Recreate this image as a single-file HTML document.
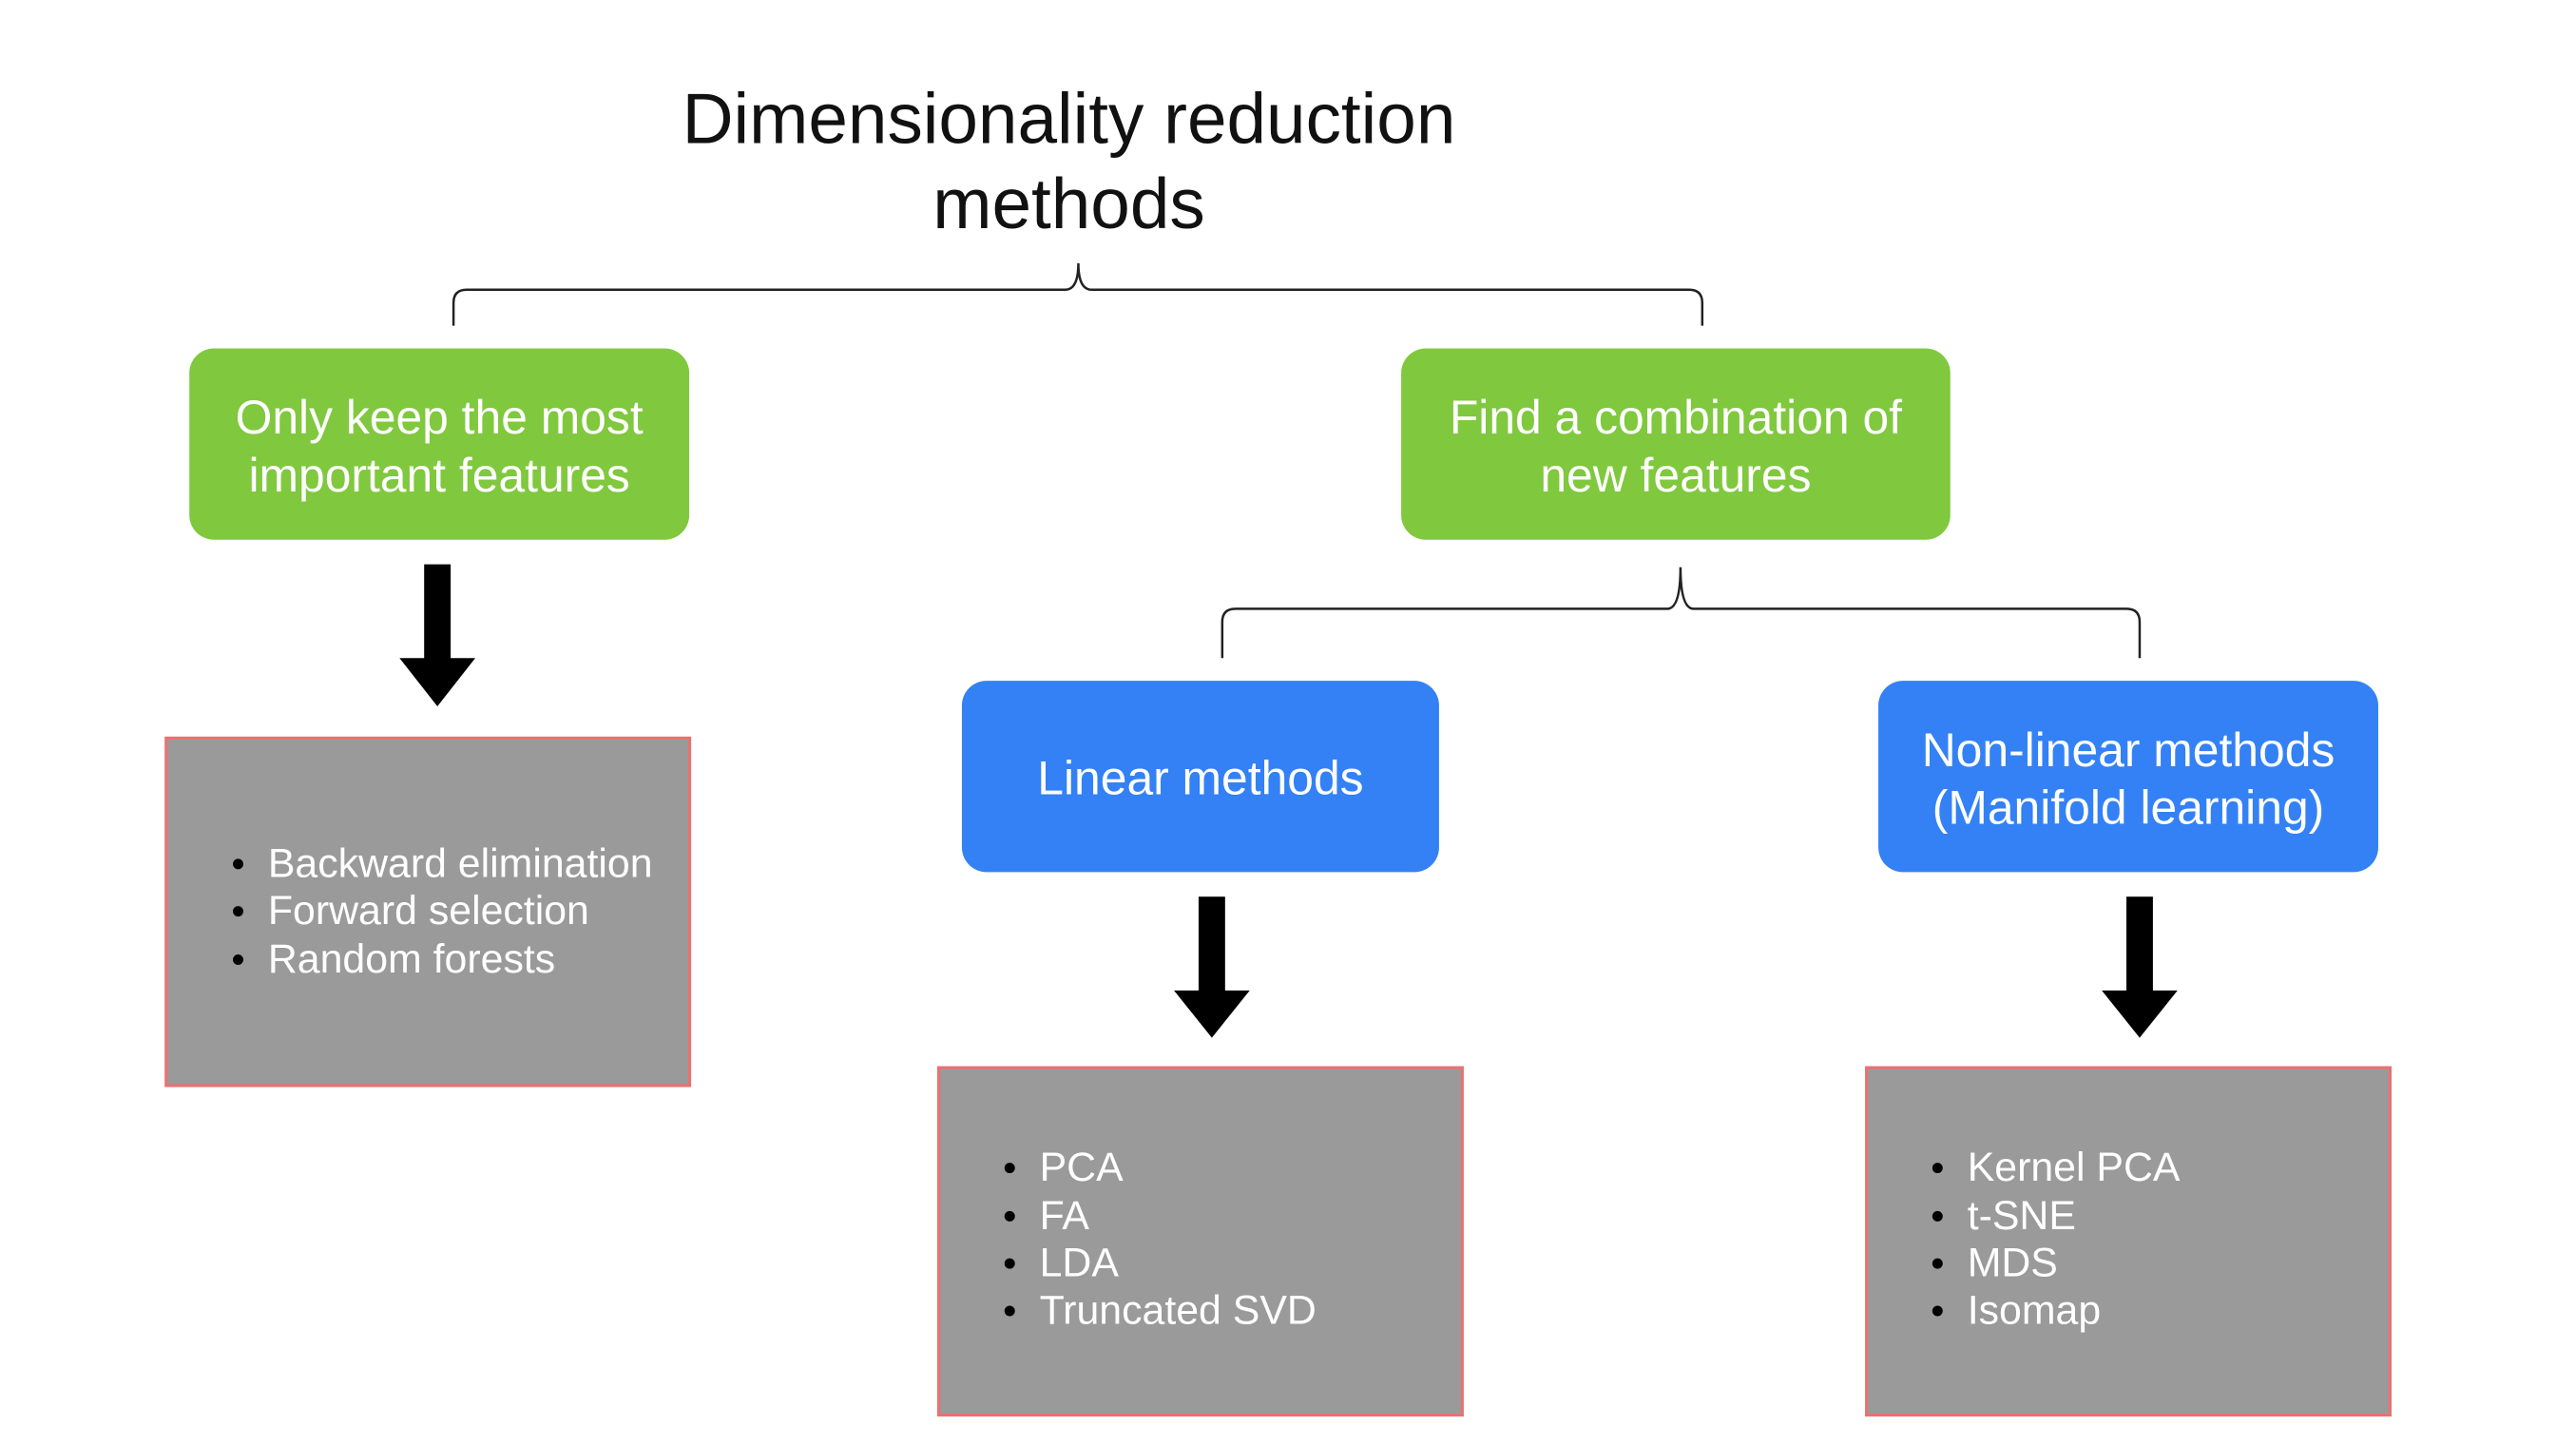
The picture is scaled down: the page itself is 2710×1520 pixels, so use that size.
<!DOCTYPE html>
<html><head><meta charset="utf-8"><style>
body{margin:0;width:2710px;height:1520px;background:#fff;position:relative;overflow:hidden;font-family:"Liberation Sans",Arial,sans-serif}
#w{position:absolute;left:0;top:0;width:2710px;height:1520px;transform:scale(0.996);transform-origin:0 0}
.a{position:absolute}
.t{position:absolute;white-space:nowrap;text-align:center}
.box{position:absolute;border-radius:26px;color:#fff}
.g{background:#80c83e}
.b{background:#3381f5}
.gr{position:absolute;background:#9a9a9a;border:3.5px solid #ef6f6f;box-sizing:border-box}
.li{position:absolute;color:#fff;font-size:43px;line-height:50px;white-space:nowrap}
.li::before{content:"";position:absolute;left:-37px;top:20px;width:11px;height:11px;border-radius:50%;background:#000}
</style></head><body><div id="w">
<div class="t" style="left:629px;width:1000px;top:80px;font-size:75px;line-height:90px;color:#111">Dimensionality reduction<br>methods</div>
<svg class="a" style="left:0;top:0" width="2710" height="1520">
<g fill="none" stroke="#222" stroke-width="2.5">
<path d="M479 344 V320 Q479 306 493 306 H1125 Q1139 306 1139 278 Q1139 306 1153 306 H1784 Q1798 306 1798 320 V344"/>
<path d="M1291 695 V657 Q1291 643 1305 643 H1761 Q1775 643 1775 599 Q1775 643 1789 643 H2246 Q2260 643 2260 657 V695"/>
</g>
<g fill="#000">
<rect x="448" y="596" width="28" height="100"/><polygon points="422,695 502,695 462,746"/>
<rect x="1266" y="947" width="28" height="100"/><polygon points="1240,1046 1320,1046 1280,1096"/>
<rect x="2246" y="947" width="28" height="100"/><polygon points="2220,1046 2300,1046 2260,1096"/>
</g>
</svg>
<div class="box g" style="left:200px;top:368px;width:528px;height:202px"></div>
<div class="t" style="left:200px;width:528px;top:411px;font-size:50px;line-height:61px;color:#fff">Only keep the most<br>important features</div>
<div class="box g" style="left:1480px;top:368px;width:580px;height:202px"></div>
<div class="t" style="left:1480px;width:580px;top:411px;font-size:50px;line-height:61px;color:#fff">Find a combination of<br>new features</div>
<div class="box b" style="left:1016px;top:719px;width:504px;height:202px"></div>
<div class="t" style="left:1016px;width:504px;top:792px;font-size:50px;line-height:61px;color:#fff">Linear methods</div>
<div class="box b" style="left:1984px;top:719px;width:528px;height:202px"></div>
<div class="t" style="left:1984px;width:528px;top:762px;font-size:50px;line-height:61px;color:#fff">Non-linear methods<br>(Manifold learning)</div>
<div class="gr" style="left:174px;top:778px;width:556px;height:370px"></div>
<div class="li" style="left:283px;top:887px">Backward elimination</div>
<div class="li" style="left:283px;top:937px">Forward selection</div>
<div class="li" style="left:283px;top:988px">Random forests</div>
<div class="gr" style="left:990px;top:1126px;width:556px;height:370px"></div>
<div class="li" style="left:1098px;top:1208px">PCA</div>
<div class="li" style="left:1098px;top:1259px">FA</div>
<div class="li" style="left:1098px;top:1309px">LDA</div>
<div class="li" style="left:1098px;top:1359px">Truncated SVD</div>
<div class="gr" style="left:1970px;top:1126px;width:556px;height:370px"></div>
<div class="li" style="left:2078px;top:1208px">Kernel PCA</div>
<div class="li" style="left:2078px;top:1259px">t-SNE</div>
<div class="li" style="left:2078px;top:1309px">MDS</div>
<div class="li" style="left:2078px;top:1359px">Isomap</div>
</div></body></html>
